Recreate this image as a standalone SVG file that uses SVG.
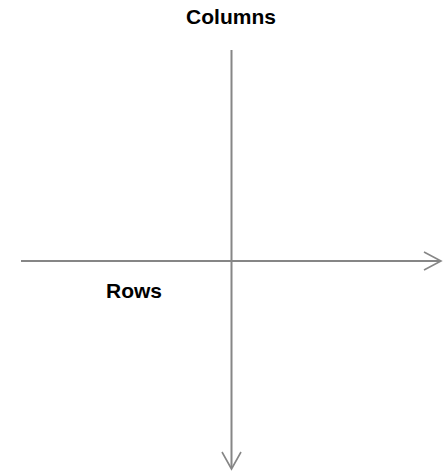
<svg xmlns="http://www.w3.org/2000/svg" width="446" height="474" viewBox="0 0 446 474">
  <style>
    .axis { stroke: #868686; stroke-width: 2; fill: none; }
    .head { stroke: #868686; stroke-width: 1.6; fill: none; }
    .lbl { font-family: "Liberation Sans", Arial, sans-serif; font-weight: bold; font-size: 21px; fill: #000; text-anchor: middle; }
  </style>
  <rect width="446" height="474" fill="#fff"/>
  <g id="connectors">
    <line class="axis" x1="21" y1="261" x2="440" y2="261"/>
    <polyline class="head" points="424,252 441,261 424,270"/>
    <line class="axis" x1="231.5" y1="50" x2="231.5" y2="468"/>
    <polyline class="head" points="222,452 231.5,469 241,452"/>
  </g>
  <g id="columns">
    <text class="lbl" x="231" y="24">Columns</text>
  </g>
  <g id="rows">
    <text class="lbl" x="134" y="298">Rows</text>
  </g>
</svg>
